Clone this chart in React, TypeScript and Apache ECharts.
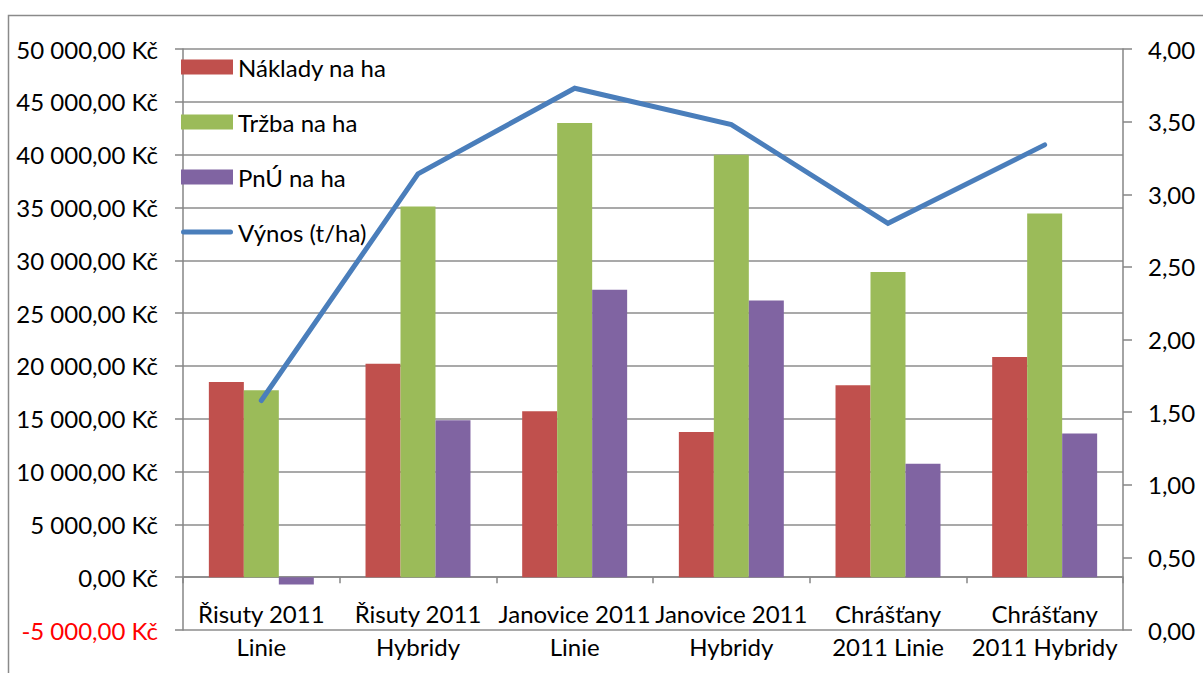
import React, { useEffect, useRef } from "react";
import * as echarts from "echarts";

const categories = [
  "Řisuty 2011\nLinie",
  "Řisuty 2011\nHybridy",
  "Janovice 2011\nLinie",
  "Janovice 2011\nHybridy",
  "Chrášťany\n2011 Linie",
  "Chrášťany\n2011 Hybridy",
];
const naklady = [18480, 20200, 15700, 13750, 18160, 20850];
const trzba = [17700, 35100, 43000, 40000, 28890, 34430];
const pnu = [-700, 14850, 27220, 26200, 10730, 13600];
const vynos = [1.58, 3.14, 3.73, 3.48, 2.8, 3.34];

const FONT = "Lato";
const FS = 24;

function fmtKc(v: number): string {
  const neg = v < 0;
  const abs = Math.abs(v);
  const intPart = Math.floor(abs)
    .toString()
    .replace(/\B(?=(\d{3})+(?!\d))/g, " ");
  const s = (neg ? "-" : "") + intPart + ",00 Kč";
  return neg ? "{neg|" + s + "}" : s;
}

const lineIcon =
  "path://M2.5,0 L49.5,0 A2.5,2.5 0 0 1 49.5,5 L2.5,5 A2.5,2.5 0 0 1 2.5,0 Z";

export default function App() {
  const ref = useRef<HTMLDivElement>(null);
  useEffect(() => {
    if (!ref.current) return;
    const chart = echarts.init(ref.current, null, { renderer: "svg" });
    const axisGray = "#868686";
    chart.setOption({
      animation: false,
      backgroundColor: "#ffffff",
      textStyle: { fontFamily: FONT },
      graphic: [
        {
          type: "polyline",
          shape: { points: [[8.5, 673], [8.5, 15.5], [1203, 15.5]] },
          style: { stroke: "#8a8a8a", lineWidth: 1.5, fill: "none" },
          silent: true,
        },
      ],
      grid: {
        left: 183,
        right: 80,
        top: 49,
        bottom: 43,
        containLabel: false,
        outerBoundsMode: "none",
      },
      legend: {
        orient: "vertical",
        left: 181,
        top: 54,
        padding: 0,
        itemWidth: 52,
        itemHeight: 15,
        itemGap: 29,
        symbolKeepAspect: true,
        textStyle: { fontSize: FS, lineHeight: 26, color: "#000", fontFamily: FONT },
        data: [
          { name: "Náklady na ha", icon: "rect" },
          { name: "Tržba na ha", icon: "rect" },
          { name: "PnÚ na ha", icon: "rect" },
          { name: "Výnos (t/ha)", icon: lineIcon, itemStyle: { color: "#4A7EBB" } },
        ],
      },
      xAxis: {
        type: "category",
        data: categories,
        boundaryGap: true,
        axisLine: { onZero: true, onZeroAxisIndex: 0, lineStyle: { color: axisGray, width: 1.5 } },
        axisTick: { show: true, length: 6, alignWithLabel: false, lineStyle: { color: axisGray, width: 1.5 } },
        axisLabel: {
          interval: 0,
          margin: -33,
          fontSize: FS,
          lineHeight: 33,
          color: "#000",
          fontFamily: FONT,
        },
      },
      yAxis: [
        {
          type: "value",
          min: -5000,
          max: 50000,
          interval: 5000,
          position: "left",
          axisLine: { show: true, lineStyle: { color: axisGray, width: 1.5 } },
          axisTick: { show: true, length: 8, lineStyle: { color: axisGray, width: 1.5 } },
          splitLine: { show: true, lineStyle: { color: "#8c8c8c", width: 1.5 } },
          axisLabel: {
            margin: 25,
            fontSize: FS,
            color: "#000",
            fontFamily: FONT,
            formatter: (v: number) => fmtKc(v),
            rich: { neg: { color: "#ff0000", fontSize: FS, fontFamily: FONT } },
          },
        },
        {
          type: "value",
          min: 0,
          max: 4,
          interval: 0.5,
          position: "right",
          axisLine: { show: true, lineStyle: { color: axisGray, width: 1.5 } },
          axisTick: { show: true, length: 9, lineStyle: { color: axisGray, width: 1.5 } },
          splitLine: { show: false },
          axisLabel: {
            margin: 25,
            fontSize: FS,
            color: "#000",
            fontFamily: FONT,
            formatter: (v: number) => v.toFixed(2).replace(".", ","),
          },
        },
      ],
      series: [
        {
          name: "Náklady na ha",
          type: "bar",
          data: naklady,
          barGap: "0%",
          barCategoryGap: "33%",
          itemStyle: { color: "#C0504D" },
        },
        {
          name: "Tržba na ha",
          type: "bar",
          data: trzba,
          barGap: "0%",
          barCategoryGap: "33%",
          itemStyle: { color: "#9BBB59" },
        },
        {
          name: "PnÚ na ha",
          type: "bar",
          data: pnu,
          barGap: "0%",
          barCategoryGap: "33%",
          itemStyle: { color: "#8064A2" },
        },
        {
          name: "Výnos (t/ha)",
          type: "line",
          yAxisIndex: 1,
          data: vynos,
          symbol: "none",
          lineStyle: { color: "#4A7EBB", width: 5, cap: "round", join: "miter" },
          itemStyle: { color: "#4A7EBB" },
        },
      ],
    });
    return () => chart.dispose();
  }, []);
  return (
    <div
      ref={ref}
      style={{ position: "fixed", left: 0, top: 0, width: 1203, height: 673 }}
    />
  );
}
